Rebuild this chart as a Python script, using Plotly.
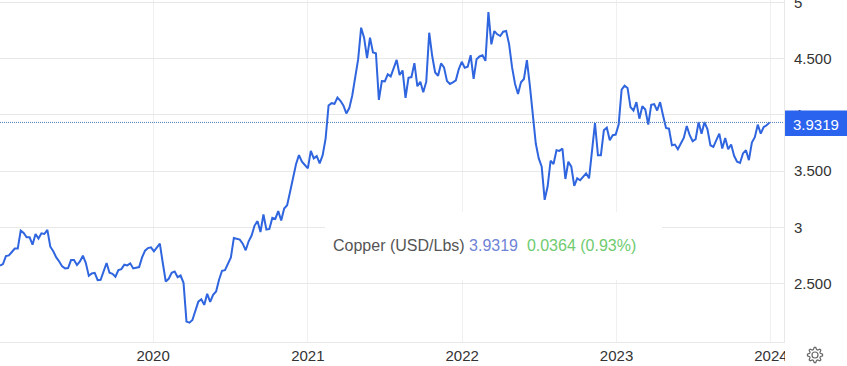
import math
import pandas as pd
import plotly.graph_objects as go

START_DATE = "2019-01-04"
END_DATE = "2023-12-29"

copper_2019_2020 = [
    2.658, 2.673, 2.744, 2.750, 2.780, 2.810, 2.810, 2.970, 2.949, 2.911, 2.911, 2.845, 2.940, 2.899,
    2.946, 2.940, 2.976, 2.827, 2.786, 2.732, 2.696, 2.652, 2.634, 2.637, 2.708, 2.708, 2.664, 2.696,
    2.747, 2.682, 2.568, 2.589, 2.595, 2.530, 2.533, 2.607, 2.682, 2.595, 2.586, 2.560, 2.619, 2.628, 2.667,
    2.661, 2.679, 2.634, 2.640, 2.646, 2.732, 2.792, 2.815, 2.821, 2.786, 2.821, 2.854, 2.682, 2.518, 2.542,
    2.595, 2.607, 2.557, 2.571, 2.506, 2.161, 2.152, 2.176, 2.250, 2.339, 2.360, 2.310, 2.408, 2.336, 2.399,
    2.429, 2.533, 2.613, 2.619, 2.682, 2.732, 2.905, 2.896, 2.890, 2.854, 2.795, 2.875, 2.926, 3.015, 3.054,
    2.958, 3.113, 2.979, 2.985, 3.083, 3.074, 3.143, 3.060, 3.167, 3.196, 3.315, 3.440, 3.560,
]
copper_2021_2022 = [
    3.641, 3.582, 3.553, 3.524, 3.679, 3.612, 3.632, 3.568, 3.641, 3.788, 4.082, 4.103, 4.097, 4.153, 4.124,
    4.082, 4.012, 4.059, 4.171, 4.341, 4.494, 4.774, 4.685, 4.503, 4.685, 4.553, 4.547, 4.132, 4.300, 4.297,
    4.359, 4.341, 4.421, 4.488, 4.353, 4.394, 4.150, 4.329, 4.335, 4.459, 4.253, 4.294, 4.200, 4.294, 4.729,
    4.524, 4.376, 4.347, 4.456, 4.421, 4.300, 4.274, 4.288, 4.306, 4.406, 4.471, 4.418, 4.426, 4.529, 4.318,
    4.494, 4.518, 4.529, 4.479, 4.912, 4.626, 4.744, 4.715, 4.700, 4.738, 4.744, 4.626, 4.421, 4.274, 4.185,
    4.288, 4.318, 4.485, 4.259, 3.994, 3.744, 3.612, 3.538, 3.244, 3.362, 3.591, 3.562, 3.685, 3.679, 3.700,
    3.429, 3.582, 3.538, 3.368, 3.435, 3.418, 3.450, 3.479, 3.435, 3.685, 3.926, 3.641, 3.641,
]
copper_2023 = [
    3.862, 3.885, 3.774, 3.818, 3.824, 3.912, 4.224, 4.259, 4.238, 4.068, 4.038, 4.112, 3.965, 4.076, 4.047,
    3.912, 4.088, 4.094, 4.038, 4.112, 3.994, 3.882, 3.876, 3.729, 3.735, 3.694, 3.744, 3.794, 3.900, 3.818,
    3.765, 3.782, 3.935, 3.832, 3.935, 3.871, 3.729, 3.715, 3.774, 3.832, 3.700, 3.794, 3.694, 3.735, 3.635,
    3.582, 3.571, 3.656, 3.685, 3.597, 3.753, 3.800, 3.912, 3.832, 3.891, 3.906, 3.9319,
]
copper_values = copper_2019_2020 + copper_2021_2022 + copper_2023
dates = pd.date_range(START_DATE, END_DATE, periods=len(copper_values))

year_ticks = ["2020-01-01", "2021-01-01", "2022-01-01", "2023-01-01", "2024-01-01"]
year_labels = ["2020", "2021", "2022", "2023", "2024"]
price_ticks = [2.5, 3, 3.5, 4, 4.5, 5]
price_labels = ["2.500", "3", "3.500", "4", "4.500", "5"]
last_price = 3.9319
change = "0.0364"
change_pct = "(0.93%)"

W, H = 847, 366
R, B = 63, 24
FONT = "Liberation Sans, Arial, sans-serif"
GRID = "#e8e8e8"
BLUE = "#2f65de"


def gear_path(cx, cy, r_out=7.6, r_in=5.6, teeth=8):
    pts = []
    n = teeth * 4
    for i in range(n):
        a = 2 * math.pi * (i - 0.5) / n
        r = r_out if i % 4 in (0, 1) else r_in
        pts.append((cx + r * math.cos(a), cy + r * math.sin(a)))
    return "M" + " L".join(f"{x:.2f},{y:.2f}" for x, y in pts) + " Z"


fig = go.Figure(
    go.Scatter(
        x=dates, y=copper_values, mode="lines",
        line=dict(color=BLUE, width=2), hoverinfo="skip", cliponaxis=False,
    )
)

shapes = [
    # white box behind the readout
    dict(type="rect", xref="paper", yref="paper", x0=325 / (W - R), x1=662 / (W - R),
         y0=1 - 280 / (H - B), y1=1 - 212 / (H - B), fillcolor="white", line_width=0, layer="above"),
    # last-price dotted line
    dict(type="line", xref="paper", yref="y", x0=0, x1=1, y0=last_price, y1=last_price,
         line=dict(color="#4f7cb5", width=1, dash="1px,1px"), layer="above"),
    # mask that clips the 2024 label at the axis edge
    dict(type="rect", xref="paper", yref="paper", x0=1.0013, x1=1.09, y0=-0.08, y1=-0.002,
         fillcolor="white", line_width=0, layer="above"),
    # last-price tag
    dict(type="rect", xref="paper", yref="y", x0=1.0013, x1=1.0815, y0=3.81, y1=4.037,
         fillcolor="#2a63ee", line_width=0, layer="above"),
    # settings icon
    dict(type="path", xref="paper", yref="paper", xsizemode="pixel", ysizemode="pixel",
         xanchor=1, yanchor=0, path=gear_path(31, -13), fillcolor="white",
         line=dict(color="#666666", width=1.2), layer="above"),
    dict(type="circle", xref="paper", yref="paper", xsizemode="pixel", ysizemode="pixel",
         xanchor=1, yanchor=0, x0=28, x1=34, y0=-16, y1=-10, fillcolor="white",
         line=dict(color="#666666", width=1.2), layer="above"),
]

annotations = [
    dict(xref="paper", yref="y", x=1.0095, y=3.915, xanchor="left", yanchor="middle",
         text=f"{last_price}", showarrow=False, font=dict(family=FONT, size=15, color="white")),
    dict(xref="paper", yref="paper", x=331 / (W - R), y=1 - 245 / (H - B), xanchor="left", yanchor="middle",
         showarrow=False, font=dict(family=FONT, size=16, color="#555555"),
         text=(f"Copper (USD/Lbs) <span style='color:#6f84d6'>{last_price}</span>"
               f"  <span style='color:#6fcb6f'>{change} {change_pct}</span>")),
]

fig.update_layout(
    width=W, height=H, margin=dict(l=0, r=R, t=0, b=B, autoexpand=False),
    paper_bgcolor="white", plot_bgcolor="white", showlegend=False,
    font=dict(family=FONT, size=15, color="#333333"),
    shapes=shapes, annotations=annotations,
    xaxis=dict(
        range=["2019-01-04", "2024-02-01"], tickvals=year_ticks, ticktext=year_labels,
        showgrid=True, gridcolor="#f0f0f0", gridwidth=1, zeroline=False, automargin=False,
        showline=True, linecolor=GRID, linewidth=1, ticks="",
        tickfont=dict(family=FONT, size=15, color="#333333"),
    ),
    yaxis=dict(
        side="right", range=[1.98, 5.02], tickvals=price_ticks, ticktext=price_labels,
        showgrid=True, gridcolor=GRID, gridwidth=1, zeroline=False, automargin=False,
        showline=True, linecolor=GRID, linewidth=1, ticks="outside", ticklen=6, tickcolor="white",
        ticklabeloverflow="allow",
        tickfont=dict(family=FONT, size=15, color="#333333"),
    ),
)

fig.write_html(
    "out.html",
    config=dict(displayModeBar=False),
    post_script="document.body.style.margin='0';document.body.style.overflow='hidden';",
)
